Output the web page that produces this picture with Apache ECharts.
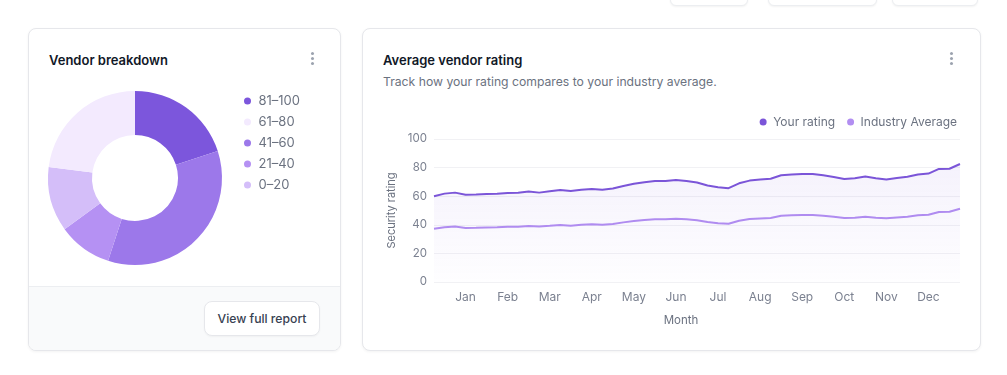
<!DOCTYPE html>
<html>
<head>
<meta charset="utf-8">
<script src="https://cdn.jsdelivr.net/npm/echarts@6/dist/echarts.min.js"></script>
<style>
  html, body { margin: 0; padding: 0; background: #ffffff; width: 1007px; height: 375px; overflow: hidden; font-family: Inter, "Noto Sans", sans-serif; }
  .topbtn { position: absolute; top: -30px; height: 34px; background: #fff; border: 1px solid #eceef1; border-radius: 6px; box-shadow: 0 1px 2px rgba(0,0,0,0.05); }
  .card { position: absolute; background: #fff; border: 1px solid #e6e7eb; border-radius: 8px; box-shadow: 0 1px 3px rgba(0,0,0,0.05); box-sizing: border-box; overflow: hidden; }
  .title { position: absolute; font-size: 13px; font-weight: 600; color: #111827; line-height: 20px; white-space: nowrap; }
  .sub { position: absolute; font-size: 12.2px; color: #6b7280; line-height: 18px; white-space: nowrap; }
  .kebab { position: absolute; width: 4px; }
  .kebab i { display: block; width: 3px; height: 3px; border-radius: 50%; background: #9ca3af; margin-bottom: 2px; }
  .footer { position: absolute; left: 0; right: 0; bottom: 0; height: 63px; background: #f9fafb; border-top: 1px solid #eceef1; }
  .btn { position: absolute; left: 175px; top: 14px; width: 116px; height: 35px; box-sizing: border-box; background: #fff; border: 1px solid #e6e7eb; border-radius: 8px; font-size: 12.2px; font-weight: 500; color: #374151; line-height: 33px; text-align: center; box-shadow: 0 1px 2px rgba(0,0,0,0.04); }
  .chart { position: absolute; }
</style>
</head>
<body>
<div class="topbtn" style="left:670px;width:76px;"></div>
<div class="topbtn" style="left:768px;width:107px;"></div>
<div class="topbtn" style="left:892px;width:84px;"></div>

<div class="card" style="left:28px;top:28px;width:313px;height:323px;">
  <div class="title" style="left:20px;top:21px;">Vendor breakdown</div>
  <div class="kebab" style="left:282px;top:23px;"><i></i><i></i><i></i></div>
  <div class="footer"><div class="btn">View full report</div></div>
</div>

<div class="card" style="left:362px;top:28px;width:619px;height:323px;">
  <div class="title" style="left:20px;top:21px;">Average vendor rating</div>
  <div class="sub" style="left:20px;top:44px;">Track how your rating compares to your industry average.</div>
  <div class="kebab" style="left:587px;top:23px;"><i></i><i></i><i></i></div>
</div>

<div id="pie" class="chart" style="left:28px;top:28px;width:312px;height:258px;"></div>
<div id="line" class="chart" style="left:362px;top:28px;width:618px;height:322px;"></div>

<script>
// ---- Donut data ----
const rangeNames = ['81–100', '41–60', '21–40', '0–20', '61–80'];
const rangeValues = [20, 35, 10, 12, 23];
const rangeColors = ['#7c56dc', '#9c78ea', '#b591f3', '#d4bef9', '#f3eafe'];
const legendOrder = ['81–100', '61–80', '41–60', '21–40', '0–20'];

// ---- Line data ----
const months = ['Jan', 'Feb', 'Mar', 'Apr', 'May', 'Jun', 'Jul', 'Aug', 'Sep', 'Oct', 'Nov', 'Dec'];
const yourRating = [60, 61.8, 62.5, 61, 61.2, 61.5, 61.7, 62.3, 62.4, 63.3,
  62.5, 63.4, 64.3, 63.6, 64.5, 65.1, 64.5, 65.4, 67.2, 68.7,
  69.8, 70.6, 70.6, 71.4, 70.7, 69.6, 67.5, 66.3, 65.6, 69.0,
  70.9, 71.6, 72.2, 74.6, 75.1, 75.6, 75.5, 74.6, 73.5, 72.1,
  72.5, 73.7, 72.6, 71.7, 72.8, 73.6, 75.2, 75.8, 79.1, 79.2, 82.5];
const industryAverage = [37.2, 38.3, 38.8, 37.8, 37.9, 38.1, 38.3, 38.6, 38.7, 39.2,
  38.8, 39.3, 39.9, 39.4, 40.0, 40.4, 40.0, 40.5, 41.7, 42.6,
  43.3, 43.8, 43.8, 44.3, 43.8, 43.2, 41.9, 41.1, 40.7, 42.8,
  44.0, 44.4, 44.8, 46.3, 46.6, 46.9, 46.8, 46.3, 45.6, 44.7,
  45.0, 45.7, 45.0, 44.5, 45.1, 45.6, 46.6, 47.0, 49.0, 49.1, 51.2];
const yTicks = { min: 0, max: 100, interval: 20 };

const FONT = 'Inter, "Noto Sans", sans-serif';

const pie = echarts.init(document.getElementById('pie'), null, { renderer: 'canvas' });
pie.setOption({
  animation: false,
  color: rangeColors,
  legend: {
    orient: 'vertical',
    left: 211,
    top: 60,
    data: legendOrder,
    icon: 'circle',
    itemWidth: 12,
    itemHeight: 7,
    itemGap: 5,
    textStyle: { fontFamily: FONT, fontSize: 13, color: '#6b7280', lineHeight: 16 }
  },
  series: [{
    type: 'pie',
    center: [107, 150],
    radius: [43, 87],
    startAngle: 90,
    clockwise: true,
    label: { show: false },
    labelLine: { show: false },
    emphasis: { disabled: true },
    itemStyle: { borderWidth: 0 },
    data: rangeNames.map((n, i) => ({ name: n, value: rangeValues[i] }))
  }]
});

const line = echarts.init(document.getElementById('line'), null, { renderer: 'canvas' });
const cats = yourRating.map((_, i) => i);
line.setOption({
  animation: false,
  color: ['#7b55d8', '#b28ef1'],
  legend: {
    right: 18,
    top: 82,
    icon: 'circle',
    itemWidth: 10,
    itemHeight: 7,
    itemGap: 12,
    textStyle: { fontFamily: FONT, fontSize: 12, color: '#6b7280', lineHeight: 14 },
    data: ['Your rating', 'Industry Average']
  },
  grid: { left: 72, right: 20, top: 111, bottom: 68, outerBoundsMode: 'none' },
  xAxis: {
    type: 'category',
    boundaryGap: false,
    data: cats,
    name: 'Month',
    nameLocation: 'middle',
    nameGap: 33,
    nameTextStyle: { fontFamily: FONT, fontSize: 11.5, color: '#6b7280', padding: [0, 32, 0, 0] },
    axisLine: { show: false },
    axisTick: { show: false },
    splitLine: { show: false },
    axisLabel: {
      interval: (i) => i % 4 === 3,
      formatter: (v, i) => months[(i - 3) / 4] || '',
      fontFamily: FONT, fontSize: 12, color: '#7b8190', margin: 9
    }
  },
  yAxis: {
    type: 'value',
    min: yTicks.min,
    max: yTicks.max,
    interval: yTicks.interval,
    name: 'Security rating',
    nameLocation: 'middle',
    nameRotate: 90,
    nameGap: 37,
    nameTextStyle: { fontFamily: FONT, fontSize: 11, color: '#6b7280' },
    axisLine: { show: false },
    axisTick: { show: false },
    axisLabel: { fontFamily: FONT, fontSize: 11.5, color: '#7b8190', margin: 7 },
    splitLine: { lineStyle: { color: '#f1f1f4', width: 1 } }
  },
  series: [
    {
      name: 'Your rating',
      type: 'line',
      data: yourRating,
      symbol: 'none',
      lineStyle: { width: 2, color: '#7b55d8' },
      areaStyle: {
        color: new echarts.graphic.LinearGradient(0, 0, 0, 1, [
          { offset: 0, color: 'rgba(124,86,220,0.11)' },
          { offset: 1, color: 'rgba(124,86,220,0.01)' }
        ])
      },
      z: 3
    },
    {
      name: 'Industry Average',
      type: 'line',
      data: industryAverage,
      symbol: 'none',
      lineStyle: { width: 2, color: '#b28ef1' },
      z: 2
    }
  ]
});
</script>
</body>
</html>
